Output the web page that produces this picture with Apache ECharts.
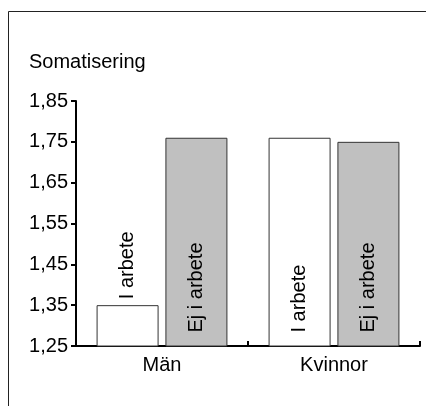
<!DOCTYPE html>
<html>
<head>
<meta charset="utf-8">
<script src="https://cdn.jsdelivr.net/npm/echarts@6/dist/echarts.min.js"></script>
<style>
html,body{margin:0;padding:0;background:#fff;}
#c{width:426px;height:406px;}
</style>
</head>
<body>
<div id="c"></div>
<script>
var categories = ['Män', 'Kvinnor'];
var seriesNames = ['I arbete', 'Ej i arbete'];
var iArbete = [1.35, 1.76];
var ejIArbete = [1.76, 1.75];
var yTicks = [1.25, 1.35, 1.45, 1.55, 1.65, 1.75, 1.85];
var yTitle = 'Somatisering';

var FONT = 'Liberation Sans, Arial, sans-serif';
var chart = echarts.init(document.getElementById('c'));

var baseLabel = {
  show: true,
  rotate: 90,
  position: 'insideBottom',
  distance: 14,
  align: 'left',
  verticalAlign: 'middle',
  fontFamily: FONT,
  fontSize: 20,
  color: '#000',
  formatter: function (p) { return p.seriesName; }
};

var iData = iArbete.map(function (v, i) {
  if (i === 0) {
    return { value: v, label: { position: 'top', distance: 6 } };
  }
  return v;
});

chart.setOption({
  animation: false,
  title: {
    text: yTitle,
    left: 24,
    top: 47,
    textStyle: { fontFamily: FONT, fontSize: 20, fontWeight: 'normal', color: '#000' }
  },
  graphic: [
    { type: 'line', shape: { x1: 8.5, y1: 11.5, x2: 426, y2: 11.5 }, style: { stroke: '#222', lineWidth: 1 } },
    { type: 'line', shape: { x1: 8.5, y1: 11.5, x2: 8.5, y2: 406 }, style: { stroke: '#222', lineWidth: 1 } }
  ],
  grid: { left: 76, right: 6, top: 101, bottom: 60, containLabel: false },
  xAxis: {
    type: 'category',
    data: categories,
    axisLine: { lineStyle: { color: '#000', width: 2 } },
    axisTick: { show: true, inside: true, length: 5, lineStyle: { color: '#000', width: 2 } },
    axisLabel: { fontFamily: FONT, fontSize: 20, color: '#000', margin: 9 }
  },
  yAxis: {
    type: 'value',
    min: 1.25,
    max: 1.85,
    splitLine: { show: false },
    axisLine: { show: true, lineStyle: { color: '#000', width: 2 } },
    axisTick: { show: true, length: 5, lineStyle: { color: '#000', width: 2 }, customValues: yTicks },
    axisLabel: {
      fontFamily: FONT, fontSize: 20, color: '#000', margin: 8,
      customValues: yTicks,
      formatter: function (v) { return v.toFixed(2).replace('.', ','); }
    }
  },
  series: [
    {
      name: seriesNames[0],
      type: 'bar',
      data: iData,
      barWidth: 62,
      barGap: '11%',
      itemStyle: { color: '#ffffff', borderColor: '#333', borderWidth: 1 },
      label: baseLabel
    },
    {
      name: seriesNames[1],
      type: 'bar',
      data: ejIArbete,
      barWidth: 62,
      barGap: '11%',
      itemStyle: { color: '#c0c0c0', borderColor: '#333', borderWidth: 1 },
      label: baseLabel
    }
  ]
});
</script>
</body>
</html>
